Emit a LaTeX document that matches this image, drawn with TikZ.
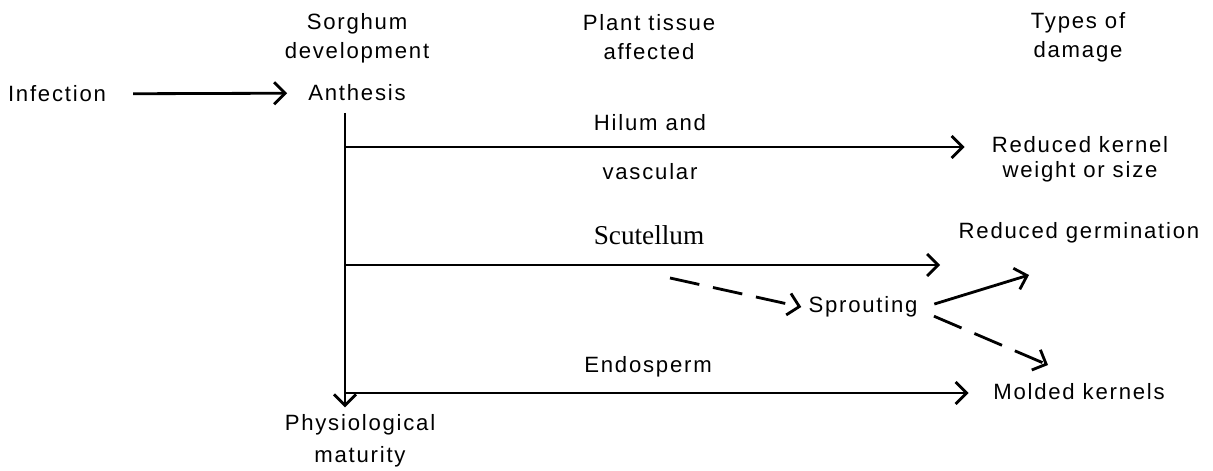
\documentclass[tikz,border=0pt]{standalone}
\usepackage{fontspec}
\setmainfont{Liberation Sans}[LetterSpace=8]
\newfontfamily\scutfont{Liberation Serif}
\usetikzlibrary{arrows.meta}

\begin{document}
\begin{tikzpicture}[>={Straight Barb[length=2.2mm,width=4.4mm]}, line width=1.6pt,
  lbl/.style={font=\fontsize{12.6}{16.5}\selectfont, align=center},
  dashline/.style={dash pattern=on 0.6cm off 0.28cm}]
  \useasboundingbox (0,0) rectangle (24.26,9.42);
  % column heads
  \node[lbl] (devhead) at (7.14,8.65) {Sorghum\\development};
  \node[lbl] (tissuehead) at (12.98,8.68) {Plant tissue\\affected};
  \node[lbl] (damagehead) at (21.56,8.68) {Types of\\damage};
  % sorghum development
  \node[lbl] (infect) at (1.14,7.54) {Infection};
  \node[lbl] (anth) at (7.14,7.56) {Anthesis};
  \node[lbl, font=\fontsize{12.6}{18.2}\selectfont] (matur) at (7.2,0.6) {Physiological\\maturity};
  \draw[->, shorten <=0.4cm, shorten >=0.28cm] (infect) -- (anth);
  \coordinate (stem) at (6.9,7.16);
  \draw[->] (stem) -- (stem |- matur.north);
  % tissues
  \coordinate (hil) at (6.9,6.48);
  \coordinate (scut) at (6.9,4.12);
  \coordinate (endo) at (6.9,1.56);
  \node[lbl] (hilum) at (13,6.96) {Hilum and};
  \node[lbl] (vasc) at (13,5.98) {vascular};
  \node[lbl, font=\scutfont\fontsize{15.5}{16}\selectfont] (scutlbl) at (12.98,4.72) {Scutellum};
  \node[lbl] (endolbl) at (12.96,2.08) {Endosperm};
  % damage
  \node[lbl, font=\fontsize{12.6}{14.2}\selectfont] (kernwt) at (21.6,6.23) {Reduced kernel\\weight or size};
  \node[lbl] (germ) at (21.58,4.76) {Reduced germination};
  \node[lbl] (sprout) at (17.26,3.28) {Sprouting};
  \node[lbl] (mold) at (21.58,1.58) {Molded kernels};
  \coordinate (scutend) at (18.8,4.12);
  \coordinate (sprstart) at (13.4,3.86);
  \coordinate (germtip) at (20.58,3.92);
  \coordinate (moldtip) at (20.96,2.12);
  \draw[->, shorten >=0.4cm] (hil) -- (kernwt.west |- hil);
  \draw[->] (scut) -- (scutend);
  \draw[->, shorten >=0.35cm] (endo) -- (mold.west |- endo);
  \draw[->, dashline] (sprstart) -- (sprout.west);
  \draw[->, shorten <=0.2cm] (sprout.east) -- (germtip);
  \draw[->, dashline, shorten <=0.2cm] ([yshift=-3pt]sprout.east) -- (moldtip);
\end{tikzpicture}
\end{document}
